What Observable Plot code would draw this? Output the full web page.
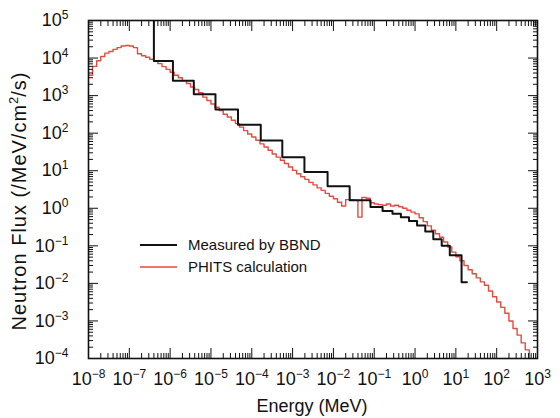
<!DOCTYPE html>
<html>
<head>
<meta charset="utf-8">
<script src="https://cdn.jsdelivr.net/npm/d3@7"></script>
<script src="https://cdn.jsdelivr.net/npm/@observablehq/plot@0.6"></script>
<style>
  html, body { margin: 0; padding: 0; background: #fff; }
  body { font-family: "Liberation Sans", Arial, Helvetica, sans-serif; }
  #wrap { position: relative; width: 560px; height: 418px; overflow: hidden; }
  .ytitle { position: absolute; left: 18px; top: 201px; transform: translate(-50%, -50%) rotate(-90deg);
            white-space: nowrap; font-size: 20px; letter-spacing: 1px; color: #111; line-height: 1; }
  .xtitle { position: absolute; left: 312px; top: 406px; transform: translate(-50%, -50%);
            white-space: nowrap; font-size: 18px; color: #111; line-height: 1; }
</style>
</head>
<body>
<div id="wrap"></div>
<script>
// ---------------- data ----------------
const xTickExponents = [-8, -7, -6, -5, -4, -3, -2, -1, 0, 1, 2, 3];
const yTickExponents = [-4, -3, -2, -1, 0, 1, 2, 3, 4, 5];

// PHITS calculation: histogram, 10 bins per decade, starting at 1e-8 MeV
const phitsFirstBinExponent = -8;
const phitsBinsPerDecade = 10;
const phitsFlux = [
  3.5e3, 6.0e3, 8.5e3, 1.1e4, 1.35e4, 1.5e4, 1.7e4, 1.9e4, 2.1e4, 2.15e4,
  2.1e4, 1.9e4, 1.3e4, 1.15e4, 1.05e4, 9.3e3, 8.5e3, 7.1e3, 5.9e3, 5.0e3,
  4.2e3, 3.5e3, 3.0e3, 2.5e3, 2.1e3, 1.7e3, 1.45e3, 1.2e3, 910, 740,
  600, 490, 400, 320, 270, 220, 180, 145, 117, 95,
  79, 65, 52, 43, 35, 28, 23, 19, 15.5, 12.6,
  10.2, 8.3, 6.9, 5.9, 4.9, 4.2, 3.5, 3.0, 2.5, 2.1,
  1.8, 1.45, 1.15, 1.7, 1.7, 1.65, 0.58, 1.95, 1.85, 1.4,
  1.3, 1.25, 1.2, 1.3, 1.15, 1.2, 1.1, 1.0, 0.89, 0.79,
  0.71, 0.56, 0.44, 0.34, 0.26, 0.21, 0.17, 0.126, 0.093, 0.068,
  0.051, 0.040, 0.030, 0.023, 0.018, 0.014, 0.011, 0.0089, 0.0063, 0.0044,
  0.0032, 0.0023, 0.0016, 0.0010, 6.3e-4, 4.2e-4, 2.6e-4, 1.7e-4, 9e-5
];

// Measured by BBND: bin edges (MeV) and flux per bin (first bin is off scale)
const bbndEdges = [
  3.0e-7, 4.0e-7, 1.17e-6, 3.8e-6, 1.29e-5, 4.6e-5, 1.66e-4, 5.6e-4, 1.95e-3, 7.2e-3,
  0.025, 0.081, 0.16, 0.28, 0.45, 0.71, 1.12, 1.78, 2.8, 4.5, 7.1, 13.8, 18.6
];
const bbndFlux = [
  1e6, 8.3e3, 2.5e3, 1.08e3, 430, 168, 64, 23, 9.2, 3.85,
  1.63, 1.08, 0.85, 0.72, 0.58, 0.46, 0.35, 0.24, 0.15, 0.10, 0.056, 0.0107
];

const legendLabels = ["Measured by BBND", "PHITS calculation"];
const seriesColors = ["#111111", "#e5493f"];

// ---------------- build ----------------
const phits = phitsFlux.map((f, i) => ({E: Math.pow(10, phitsFirstBinExponent + i / phitsBinsPerDecade), f}));
phits.push({E: Math.pow(10, phitsFirstBinExponent + phitsFlux.length / phitsBinsPerDecade), f: phitsFlux[phitsFlux.length - 1]});

const bbnd = bbndFlux.map((f, i) => ({E: bbndEdges[i], f}));
bbnd.push({E: bbndEdges[bbndEdges.length - 1], f: bbndFlux[bbndFlux.length - 1]});

const xMajor = xTickExponents.map(e => Math.pow(10, e));
const yMajor = yTickExponents.map(e => Math.pow(10, e));
const xMinor = [], yMinor = [];
for (let i = 0; i < xTickExponents.length - 1; i++) for (let k = 2; k <= 9; k++) xMinor.push(k * Math.pow(10, xTickExponents[i]));
for (let i = 0; i < yTickExponents.length - 1; i++) for (let k = 2; k <= 9; k++) yMinor.push(k * Math.pow(10, yTickExponents[i]));

const W = 560, H = 418, mL = 88, mR = 23, mT = 20, mB = 60;
const major = 10, minor = 5;
const fmt = d => "10^" + String(Math.round(Math.log10(d))).replace("-", "\u2212");
const none = () => "";
const tk = {stroke: "#111", tickFormat: none, label: null};

const chart = Plot.plot({
  width: W, height: H,
  marginLeft: mL, marginRight: mR, marginTop: mT, marginBottom: mB,
  style: {fontFamily: "Liberation Sans, Arial, Helvetica, sans-serif", color: "#111"},
  x: {type: "log", domain: [1e-8, 1e3], axis: null},
  y: {type: "log", domain: [1e-4, 1e5], axis: null},
  marks: [
    Plot.line(phits, {x: "E", y: "f", curve: "step-after", stroke: seriesColors[1], strokeWidth: 1.4, clip: true}),
    Plot.line(bbnd, {x: "E", y: "f", curve: "step-after", stroke: seriesColors[0], strokeWidth: 2, clip: true}),
    // inward ticks on all four sides (axis ticks shifted inside the frame)
    Plot.axisX({...tk, anchor: "bottom", ticks: xMajor, tickSize: major, dy: -major}),
    Plot.axisX({...tk, anchor: "bottom", ticks: xMinor, tickSize: minor, dy: -minor}),
    Plot.axisX({...tk, anchor: "top", ticks: xMajor, tickSize: major, dy: major}),
    Plot.axisX({...tk, anchor: "top", ticks: xMinor, tickSize: minor, dy: minor}),
    Plot.axisY({...tk, anchor: "left", ticks: yMajor, tickSize: major, dx: major}),
    Plot.axisY({...tk, anchor: "left", ticks: yMinor, tickSize: minor, dx: minor}),
    Plot.axisY({...tk, anchor: "right", ticks: yMajor, tickSize: major, dx: -major}),
    Plot.axisY({...tk, anchor: "right", ticks: yMinor, tickSize: minor, dx: -minor}),
    // tick labels
    Plot.axisX({anchor: "bottom", ticks: xMajor, tickSize: 0, tickPadding: 14, tickFormat: fmt, fontSize: 18, label: null}),
    Plot.axisY({anchor: "left", ticks: yMajor, tickSize: 0, tickPadding: 20, tickFormat: fmt, fontSize: 18, label: null}),
    Plot.frame({stroke: "#111", strokeWidth: 1.6})
  ]
});

// turn "10^e" labels into 10 with a superscript exponent
d3.select(chart).selectAll("text").each(function () {
  const t = this.textContent;
  if (t.indexOf("^") < 0) return;
  const [base, exp] = t.split("^");
  this.textContent = "";
  d3.select(this).append("tspan").text(base);
  d3.select(this).append("tspan").attr("dy", -7).attr("font-size", 12).text(exp);
});

const wrap = document.getElementById("wrap");
chart.style.position = "absolute";
chart.style.left = "0px";
chart.style.top = "0px";
wrap.appendChild(chart);

const yt = document.createElement("div");
yt.className = "ytitle";
yt.innerHTML = "Neutron Flux (/MeV/cm<sup style=\"font-size:13px;letter-spacing:0\">2</sup>/s)";
wrap.appendChild(yt);

const xt = document.createElement("div");
xt.className = "xtitle";
xt.textContent = "Energy (MeV)";
wrap.appendChild(xt);

const lg = d3.select(wrap).append("svg")
  .attr("width", 200).attr("height", 44)
  .style("position", "absolute").style("left", "138px").style("top", "234px");
legendLabels.forEach((lab, i) => {
  const y = 11 + i * 22;
  lg.append("line").attr("x1", 2).attr("x2", 39).attr("y1", y).attr("y2", y)
    .attr("stroke", seriesColors[i]).attr("stroke-width", i === 0 ? 2 : 1.4);
  lg.append("text").attr("x", 50).attr("y", y).attr("dy", "0.35em")
    .attr("font-size", 15).attr("fill", "#111")
    .attr("font-family", "Liberation Sans, Arial, Helvetica, sans-serif").text(lab);
});
</script>
</body>
</html>
